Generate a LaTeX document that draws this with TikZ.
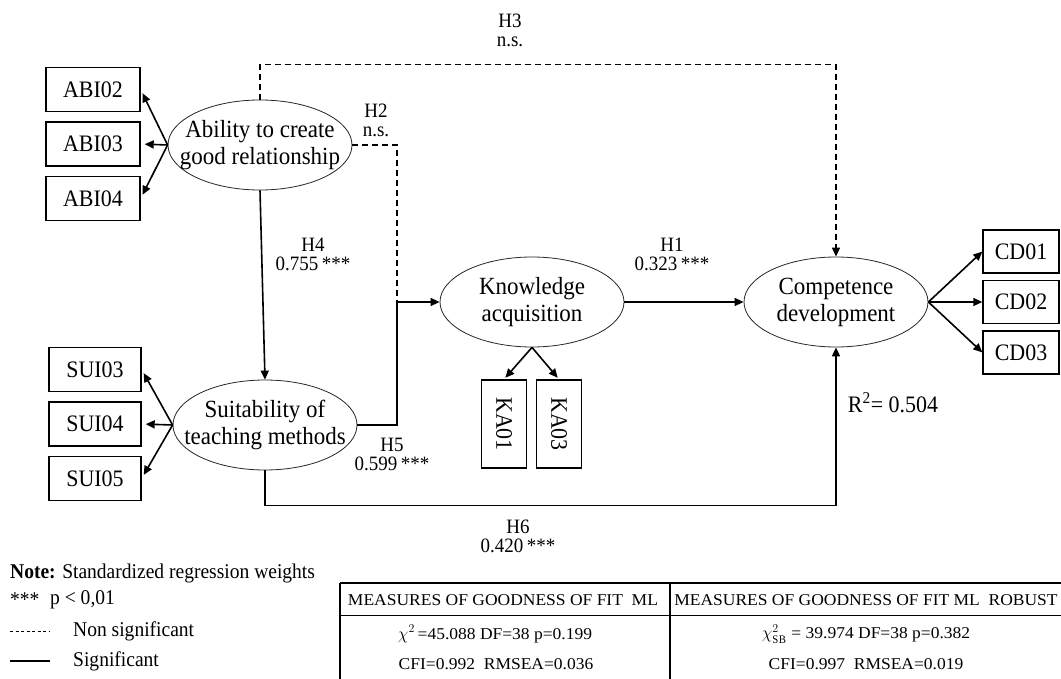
\documentclass[tikz,border=0pt]{standalone}
\usepackage{fontspec}
\setmainfont[FakeStretch=0.93]{Liberation Serif}
\newfontfamily\tabfont[FakeStretch=1.06]{Liberation Serif}
\usetikzlibrary{shapes.geometric,arrows.meta,positioning}

\newcommand{\tabLeft }{340}
\newcommand{\tabMid  }{670}
\newcommand{\tabRight}{1061}
\newcommand{\tabTop  }{583}
\newcommand{\tabHead }{615}
\newcommand{\tabBot  }{679}

\tikzset{
  latent/.style={ellipse, draw=black!85, line width=0.8pt, minimum width=184pt,
    minimum height=90pt, inner xsep=-20pt, inner ysep=0pt, align=center,
    font=\fontsize{24.7}{27}\selectfont},
  indic/.style={rectangle, draw, line width=1.4pt, minimum width=94pt,
    minimum height=44pt, inner sep=0pt, font=\fontsize{23.6}{24}\selectfont},
  load/.style={line width=1.6pt, -{Triangle[length=9pt,width=8pt]}},
  sig/.style={line width=1.6pt},
  nonsig/.style={line width=1.6pt, dash pattern=on 6pt off 4pt},
  hyp/.style={align=center, inner sep=0pt, font=\fontsize{20.4}{19}\selectfont},
  note/.style={anchor=west, inner sep=0pt, font=\fontsize{21}{22}\selectfont},
  cell/.style={inner sep=0pt, font=\tabfont\fontsize{16.5}{20}\selectfont}
}

\begin{document}
\begin{tikzpicture}[x=1pt, y=-1pt, node distance=9pt]
  \useasboundingbox (0,0) rectangle (1061,679);

  % Latent variables:
  \node[latent] (ability) at (260,145) {Ability to create\\good relationship};
  \node[latent] (suit)    at (265,425) {Suitability of\\teaching methods};
  \node[latent] (know)    at (532,302) {Knowledge\\acquisition};
  \node[latent] (comp)    at (836,302) {Competence\\development};

  % Indicators:
  \node[indic] (abi03) at (93,144) {ABI03};
  \node[indic, above=of abi03] (abi02) {ABI02};
  \node[indic, below=of abi03] (abi04) {ABI04};
  \node[indic, minimum width=92pt] (sui04) at (95,424) {SUI04};
  \node[indic, minimum width=92pt, above=of sui04] (sui03) {SUI03};
  \node[indic, minimum width=92pt, below=of sui04] (sui05) {SUI05};
  \node[indic, minimum width=76pt, minimum height=43pt] (cd02) at (1021,302) {CD02};
  \node[indic, minimum width=76pt, minimum height=43pt, above=6pt of cd02] (cd01) {CD01};
  \node[indic, minimum width=76pt, minimum height=43pt, below=6pt of cd02] (cd03) {CD03};
  \node[indic, minimum width=45pt, minimum height=88pt] (ka01) at (504,424) {\rotatebox{-90}{KA01}};
  \node[indic, minimum width=45pt, minimum height=88pt] (ka03) at (559,424) {\rotatebox{-90}{KA03}};

  % Loadings:
  \foreach \b in {abi02,abi03,abi04} \draw[load, shorten >=4pt] (ability.west) -- (\b.east);
  \foreach \b in {sui03,sui04,sui05} \draw[load, shorten >=4pt] (suit.west) -- (\b.east);
  \foreach \b in {cd01,cd02,cd03} \draw[load] (comp.east) -- (\b.west);
  \foreach \b in {ka01,ka03} \draw[load, shorten >=2pt] (know.south) -- (\b.north);

  % Hypotheses:
  \coordinate (joint) at (397,302);
  \draw[load] (know.east) -- (comp.west);
  \draw[nonsig] (ability.east) -| (joint);
  \draw[nonsig, -{Triangle[length=9pt,width=8pt]}] (ability.north) -- ++(0,-35) -| (comp.north);
  \draw[load] (ability.south) -- (suit.north);
  \draw[sig] (suit.east) -| (joint);
  \draw[load] (joint) -- (know.west);
  \draw[load] (suit.south) -- ++(0,35) -| (comp.south);

  \node[hyp] (h1) at (672,254) {H1\\0.323\,***};
  \node[hyp] (h2) at (376,120) {H2\\n.s.};
  \node[hyp] (h3) at (510,30)  {H3\\n.s.};
  \node[hyp] (h4) at (313,254) {H4\\0.755\,***};
  \node[hyp] (h5) at (392,454) {H5\\0.599\,***};
  \node[hyp] (h6) at (518,536) {H6\\0.420\,***};
  \node[font=\fontsize{23.6}{24}\selectfont] (r2) at (893,403) {R\textsuperscript{2}= 0.504};

  % Legend:
  \node[note] (note)  at (10,573) {\textbf{Note:} Standardized regression weights};
  \node[note] (stars) at (10,600) {***};
  \node[note] (pval)  at (50,600) {p < 0,01};
  \draw[line width=0.8pt, dash pattern=on 3pt off 2.5pt] (10,631) -- (50,631);
  \node[note] (nslab) at (73,631) {Non significant};
  \draw[line width=1.6pt] (10,661) -- (50,661);
  \node[note] (slab)  at (73,661) {Significant};

  % Fit table:
  \draw[line width=1.6pt] (\tabLeft,\tabTop)  -- (\tabRight,\tabTop);
  \draw[line width=1pt]   (\tabLeft,\tabHead) -- (\tabRight,\tabHead);
  \draw[line width=1.2pt] (\tabLeft,\tabTop)  -- (\tabLeft,\tabBot);
  \draw[line width=1.2pt] (\tabMid,\tabTop)   -- (\tabMid,\tabBot);
  \node[cell] (head1) at (503,600) {MEASURES OF GOODNESS OF FIT~ ML};
  \node[cell] (head2) at (866,600) {MEASURES OF GOODNESS OF FIT ML~ ROBUST};
  \node[cell] (chi1)  at (495,634) {$\chi^2$\,=45.088 DF=38 p=0.199};
  \node[cell] (fit1)  at (496,664) {CFI=0.992~ RMSEA=0.036};
  \node[cell] (chi2)  at (866,634) {$\chi^2_{\mathrm{SB}}$ = 39.974 DF=38 p=0.382};
  \node[cell] (fit2)  at (866,664) {CFI=0.997~ RMSEA=0.019};

\end{tikzpicture}
\end{document}
